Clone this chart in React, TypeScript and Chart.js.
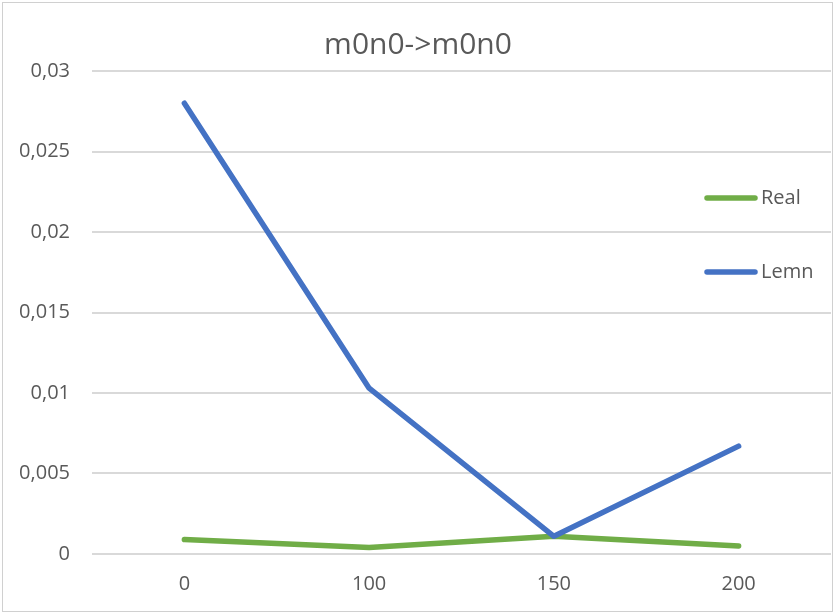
import React, { useEffect, useRef } from 'react'
import { Chart, registerables } from 'chart.js'

Chart.register(...registerables)

const categories = ['0', '100', '150', '200']
const realValues = [0.0009, 0.0004, 0.0011, 0.0005]
const lemnValues = [0.028, 0.0103, 0.0011, 0.0067]
const chartTitle = 'm0n0->m0n0'

const textColor = '#595959'
const fontFamily = "'Open Sans', sans-serif"

// Excel-like frame, title and legend drawn over the plot
const excelDecor = {
	id: 'excelDecor',
	afterDraw(chart: Chart) {
		const ctx = chart.ctx
		ctx.save()
		ctx.strokeStyle = '#d0d0d0'
		ctx.lineWidth = 1
		ctx.strokeRect(2.5, 2.5, 830, 609)

		ctx.fillStyle = textColor
		ctx.font = `30px ${fontFamily}`
		ctx.textAlign = 'center'
		ctx.textBaseline = 'middle'
		ctx.fillText(chartTitle, 418, 45)

		ctx.font = `20px ${fontFamily}`
		ctx.textAlign = 'left'
		chart.data.datasets.forEach((ds, i) => {
			const y = 198 + i * 74
			ctx.strokeStyle = ds.borderColor as string
			ctx.lineWidth = 5.5
			ctx.lineCap = 'round'
			ctx.beginPath()
			ctx.moveTo(707, y)
			ctx.lineTo(755, y)
			ctx.stroke()
			ctx.fillStyle = textColor
			ctx.fillText(ds.label as string, 761, y)
		})
		ctx.restore()
	},
}

const LineChart: React.FC = () => {
	const chartRef = useRef<HTMLCanvasElement>(null)

	useEffect(() => {
		if (!chartRef.current) return
		const context = chartRef.current.getContext('2d')
		if (!context) return

		const chart = new Chart(context, {
			type: 'line',
			data: {
				labels: categories,
				datasets: [
					{
						label: 'Real',
						data: realValues,
						borderColor: '#70AD47',
						backgroundColor: '#70AD47',
						borderWidth: 5.5,
						pointRadius: 0,
						borderCapStyle: 'round',
						borderJoinStyle: 'round',
						order: 1,
					},
					{
						label: 'Lemn',
						data: lemnValues,
						borderColor: '#4472C4',
						backgroundColor: '#4472C4',
						borderWidth: 5.5,
						pointRadius: 0,
						borderCapStyle: 'round',
						borderJoinStyle: 'round',
						order: 0,
					},
				],
			},
			options: {
				animation: false,
				responsive: false,
				layout: { padding: { top: 71, right: 3, left: 0, bottom: 0 } },
				plugins: {
					legend: { display: false },
					title: { display: false },
					tooltip: { enabled: false },
				},
				scales: {
					x: {
						offset: true,
						grid: { display: false, drawTicks: false },
						border: { display: false },
						ticks: {
							color: textColor,
							font: { family: fontFamily, size: 20 },
							padding: 18,
						},
						afterFit: (scale) => {
							scale.height = 60
						},
					},
					y: {
						min: 0,
						max: 0.03,
						grid: { color: '#d9d9d9', lineWidth: 2, drawTicks: false },
						border: { display: false },
						ticks: {
							stepSize: 0.005,
							color: textColor,
							font: { family: fontFamily, size: 20 },
							padding: 22,
							callback: (v) => String(Number(Number(v).toFixed(3))).replace('.', ','),
						},
						afterFit: (scale) => {
							scale.width = 92
						},
					},
				},
			},
			plugins: [excelDecor],
		})

		return () => {
			chart.destroy()
		}
	}, [])

	return <canvas ref={chartRef} width={834} height={614} style={{ display: 'block' }} />
}

export default function App() {
	useEffect(() => {
		document.body.style.margin = '0'
	}, [])
	return <LineChart />
}
